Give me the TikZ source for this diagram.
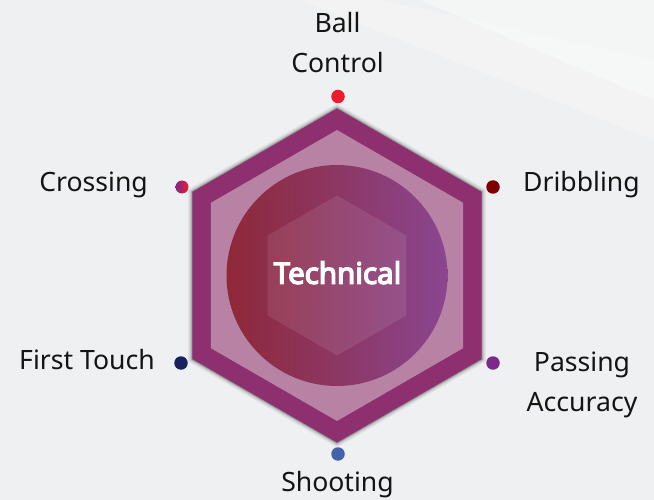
\documentclass[tikz,border=0pt]{standalone}
\usepackage{fontspec}
\setmainfont{Noto Sans}
\newfontfamily\techfont{Noto Sans}[FakeBold=4.5]
\usetikzlibrary{shapes.geometric}
\definecolor{bgc}{HTML}{EFF0F1}
\definecolor{outerhex}{HTML}{8E2F6F}
\definecolor{innerhex}{HTML}{B882A4}
\definecolor{circL}{HTML}{8F2838}
\definecolor{circR}{HTML}{8A4690}
\definecolor{dotBall}{HTML}{EC1C2C}
\definecolor{dotDrib}{HTML}{7F0000}
\definecolor{dotFirst}{HTML}{1A1F5E}
\definecolor{dotPass}{HTML}{7B2A8B}
\definecolor{dotShoot}{HTML}{4262AA}
\definecolor{txt}{HTML}{141414}
\tikzset{
  lbl/.style={font=\fontsize{26.6}{40}\selectfont, text=txt, inner sep=0pt, align=center},
  dotnode/.style={circle, inner sep=0pt, minimum size=13.5pt},
}
\newcommand{\hexpath}[1]{(337,275.5) +(90:#1) -- +(30:#1) -- +(-30:#1) -- +(-90:#1) -- +(-150:#1) -- +(150:#1) -- cycle}
\begin{document}
\begin{tikzpicture}[x=1pt,y=-1pt]
\useasboundingbox (0,0) rectangle (654,500);
% background
\fill[bgc] (0,0) rectangle (654,500);
\fill[white,opacity=0.35] (420,0) -- (654,0) -- (654,100) -- cycle;
\fill[white,opacity=0.25] (380,0) -- (654,60) -- (654,140) -- (300,0) -- cycle;
% shadow of outer hexagon
\foreach \r/\o in {172/0.05,170.5/0.08,169/0.12,168/0.2}{
  \fill[black,opacity=\o] \hexpath{\r};
}
% hexagons
\fill[outerhex] \hexpath{167};
\fill[innerhex] \hexpath{145.5};
% circle
\shade[left color=circL, right color=circR] (337,275.5) circle (110.5);
\fill[white,opacity=0.09] \hexpath{80};
\node[font=\fontsize{29.5}{32}\selectfont\techfont, text=white, inner sep=0pt, anchor=base] (tech) at (337.5,283.8) {Technical};
% dots
\node[dotnode, fill=dotBall] (dball) at (338,96.5) {};
\node[dotnode, left color=dotPass, right color=dotBall, minimum size=13pt] (dcross) at (182,187) {};
\node[dotnode, fill=dotDrib] (ddrib) at (493,187) {};
\node[dotnode, fill=dotFirst] (dfirst) at (181,363) {};
\node[dotnode, fill=dotPass] (dpass) at (493,363) {};
\node[dotnode, fill=dotShoot] (dshoot) at (338,454) {};
% labels
\node[lbl, anchor=base] (lball) at (337.5,72.7) {Ball\\Control};
\node[lbl, anchor=base east] (lcross) at (148,191.7) {Crossing};
\node[lbl, anchor=base west] (ldrib) at (523,191.7) {Dribbling};
\node[lbl, anchor=base east] (lfirst) at (155,369.5) {First Touch};
\node[lbl, anchor=base] (lpass) at (582,411.7) {Passing\\Accuracy};
\node[lbl, anchor=base] (lshoot) at (337.5,491.7) {Shooting};
\end{tikzpicture}
\end{document}
